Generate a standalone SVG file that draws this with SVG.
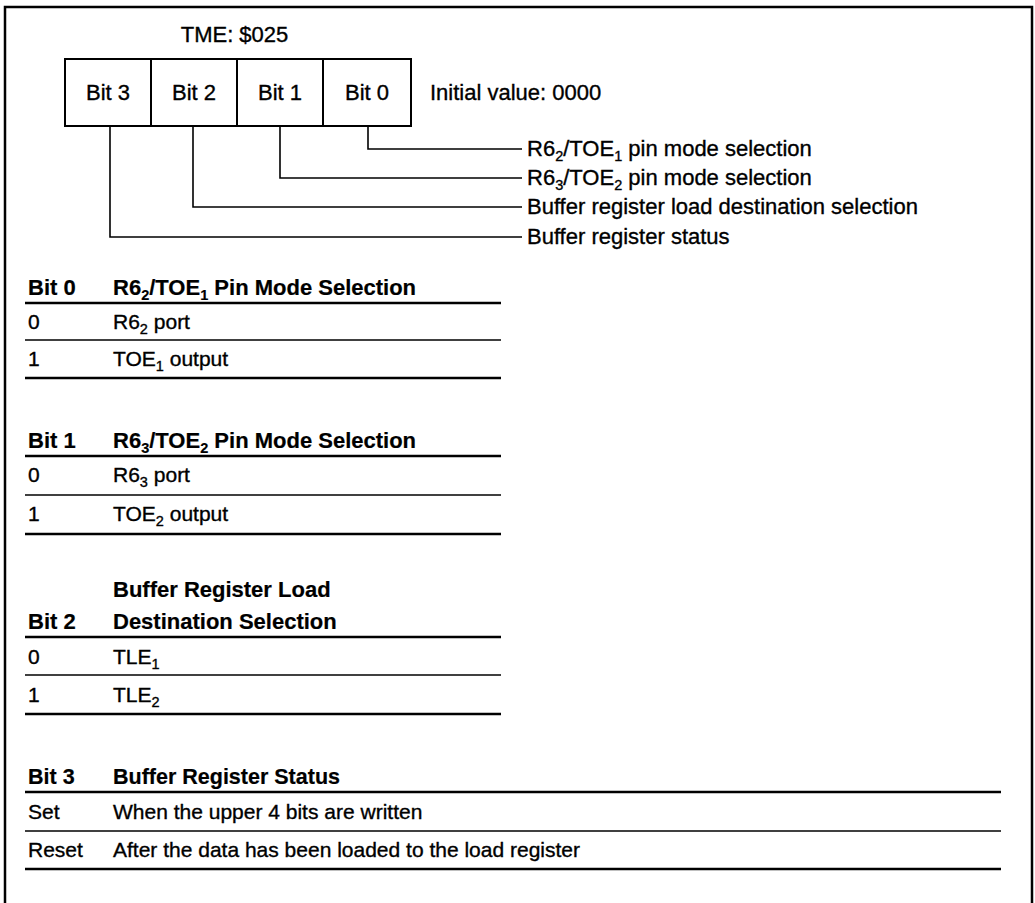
<svg xmlns="http://www.w3.org/2000/svg" width="1035" height="903" viewBox="0 0 1035 903">
  <style>
    text { font-family: "Liberation Sans", Arial, Helvetica, sans-serif; font-size: 22px; fill: #000; stroke: #000; stroke-width: 0.35; }
    .b { font-weight: bold; stroke-width: 0.2; }
    .row { font-size: 21px; }
    .sub { font-size: 14.5px; }
    .frame { fill: none; stroke: #000; stroke-width: 2.5; }
    .cell { fill: #fff; stroke: #000; stroke-width: 2; }
    .wire { fill: none; stroke: #000; stroke-width: 1.6; }
    .rule-thick { stroke: #000; stroke-width: 2.6; }
    .rule-thin { stroke: #000; stroke-width: 1.6; }
  </style>

  <rect width="1035" height="903" fill="#fff"/>

  <!-- outer frame (open at the bottom) -->
  <path class="frame" d="M5,903 V7 H1032 V903"/>

  <!-- register layout -->
  <g id="register">
    <text x="234.5" y="42" text-anchor="middle">TME: $025</text>
    <g id="bit3">
      <rect class="cell" x="65" y="59" width="86" height="67"/>
      <text x="108" y="100" text-anchor="middle">Bit 3</text>
    </g>
    <g id="bit2">
      <rect class="cell" x="151" y="59" width="86" height="67"/>
      <text x="194" y="100" text-anchor="middle">Bit 2</text>
    </g>
    <g id="bit1">
      <rect class="cell" x="237" y="59" width="86" height="67"/>
      <text x="280" y="100" text-anchor="middle">Bit 1</text>
    </g>
    <g id="bit0">
      <rect class="cell" x="323" y="59" width="88" height="67"/>
      <text x="367" y="100" text-anchor="middle">Bit 0</text>
    </g>
    <text x="430" y="100">Initial value: 0000</text>
  </g>

  <!-- bit field leader lines -->
  <g id="connectors">
    <path class="wire" d="M368,126 V149 H522"/>
    <path class="wire" d="M280,126 V178 H522"/>
    <path class="wire" d="M193,126 V207 H522"/>
    <path class="wire" d="M110,126 V237 H522"/>
  </g>

  <g id="field-labels">
    <text x="527" y="156">R6<tspan class="sub" dy="5">2</tspan><tspan dy="-5">/TOE</tspan><tspan class="sub" dy="5">1</tspan><tspan dy="-5"> pin mode selection</tspan></text>
    <text x="527" y="185">R6<tspan class="sub" dy="5">3</tspan><tspan dy="-5">/TOE</tspan><tspan class="sub" dy="5">2</tspan><tspan dy="-5"> pin mode selection</tspan></text>
    <text x="527" y="214">Buffer register load destination selection</text>
    <text x="527" y="244">Buffer register status</text>
  </g>

  <!-- Bit 0 table -->
  <g id="table-bit0">
    <text class="b" x="28" y="295">Bit 0</text>
    <text class="b" x="113" y="295">R6<tspan class="sub" dy="5">2</tspan><tspan dy="-5">/TOE</tspan><tspan class="sub" dy="5">1</tspan><tspan dy="-5"> Pin Mode Selection</tspan></text>
    <line class="rule-thick" x1="25" y1="303" x2="501" y2="303"/>
    <text class="row" x="28" y="329">0</text>
    <text class="row" x="113" y="329">R6<tspan class="sub" dy="5">2</tspan><tspan dy="-5"> port</tspan></text>
    <line class="rule-thin" x1="25" y1="340" x2="501" y2="340"/>
    <text class="row" x="28" y="366">1</text>
    <text class="row" x="113" y="366">TOE<tspan class="sub" dy="5">1</tspan><tspan dy="-5"> output</tspan></text>
    <line class="rule-thick" x1="25" y1="378" x2="501" y2="378"/>
  </g>

  <!-- Bit 1 table -->
  <g id="table-bit1">
    <text class="b" x="28" y="448">Bit 1</text>
    <text class="b" x="113" y="448">R6<tspan class="sub" dy="5">3</tspan><tspan dy="-5">/TOE</tspan><tspan class="sub" dy="5">2</tspan><tspan dy="-5"> Pin Mode Selection</tspan></text>
    <line class="rule-thick" x1="25" y1="456" x2="501" y2="456"/>
    <text class="row" x="28" y="482">0</text>
    <text class="row" x="113" y="482">R6<tspan class="sub" dy="5">3</tspan><tspan dy="-5"> port</tspan></text>
    <line class="rule-thin" x1="25" y1="495" x2="501" y2="495"/>
    <text class="row" x="28" y="521">1</text>
    <text class="row" x="113" y="521">TOE<tspan class="sub" dy="5">2</tspan><tspan dy="-5"> output</tspan></text>
    <line class="rule-thick" x1="25" y1="534" x2="501" y2="534"/>
  </g>

  <!-- Bit 2 table -->
  <g id="table-bit2">
    <text class="b" x="113" y="597">Buffer Register Load</text>
    <text class="b" x="28" y="629">Bit 2</text>
    <text class="b" x="113" y="629">Destination Selection</text>
    <line class="rule-thick" x1="25" y1="637" x2="501" y2="637"/>
    <text class="row" x="28" y="664">0</text>
    <text class="row" x="113" y="664">TLE<tspan class="sub" dy="5">1</tspan></text>
    <line class="rule-thin" x1="25" y1="675" x2="501" y2="675"/>
    <text class="row" x="28" y="702">1</text>
    <text class="row" x="113" y="702">TLE<tspan class="sub" dy="5">2</tspan></text>
    <line class="rule-thick" x1="25" y1="714" x2="501" y2="714"/>
  </g>

  <!-- Bit 3 table -->
  <g id="table-bit3">
    <text class="b" x="28" y="784" style="font-size:21.5px">Bit 3</text>
    <text class="b" x="113" y="784" style="font-size:21.5px">Buffer Register Status</text>
    <line class="rule-thick" x1="25" y1="792" x2="1001" y2="792"/>
    <text class="row" x="28" y="819">Set</text>
    <text class="row" x="113" y="819">When the upper 4 bits are written</text>
    <line class="rule-thin" x1="25" y1="831" x2="1001" y2="831"/>
    <text class="row" x="28" y="857">Reset</text>
    <text class="row" x="113" y="857">After the data has been loaded to the load register</text>
    <line class="rule-thick" x1="25" y1="869" x2="1001" y2="869"/>
  </g>
</svg>
